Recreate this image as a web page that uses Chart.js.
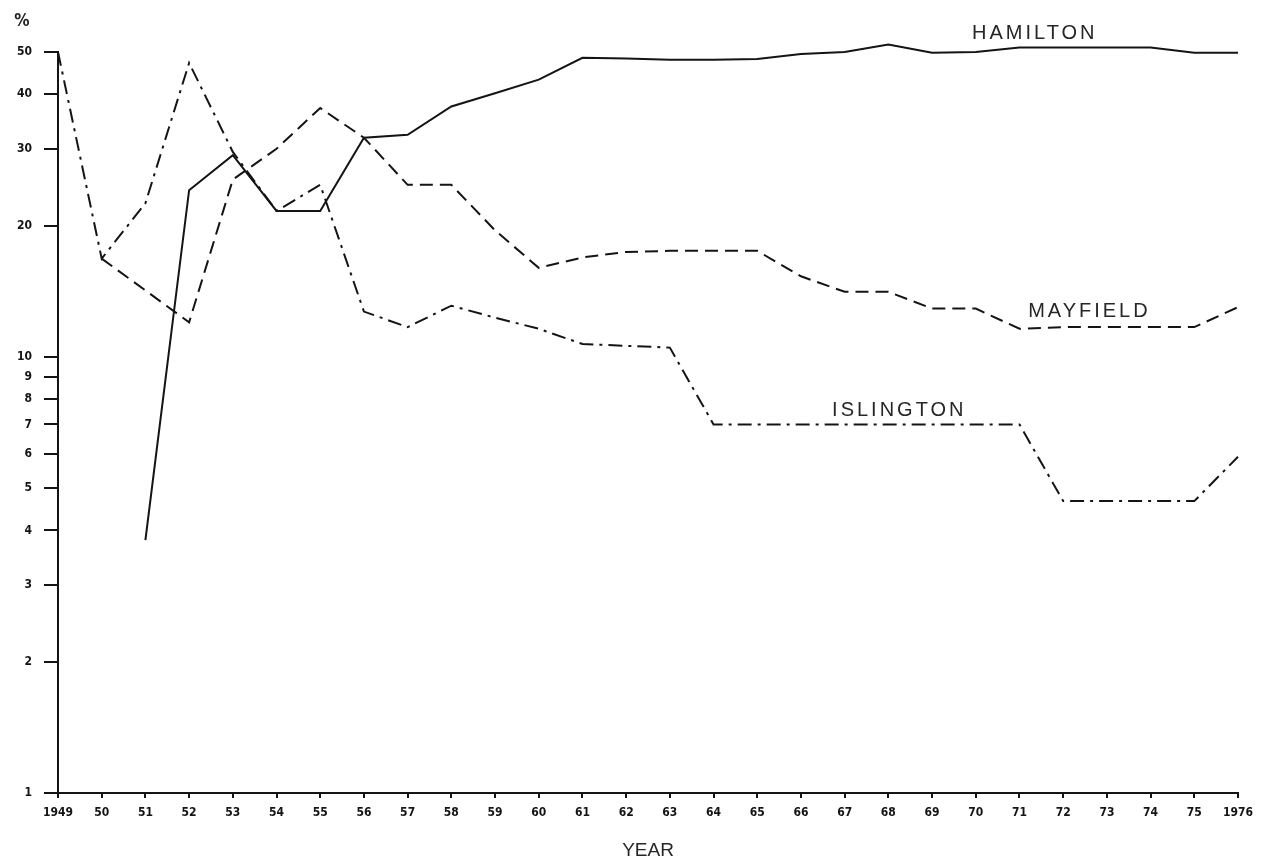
<!DOCTYPE html>
<html>
<head>
<meta charset="utf-8">
<script src="https://cdn.jsdelivr.net/npm/chart.js@4"></script>
<style>
  html, body { margin: 0; padding: 0; background: #ffffff; }
  #wrap { width: 1275px; height: 863px; }
</style>
</head>
<body>
<div id="wrap"><canvas id="grafico" width="1275" height="863"></canvas></div>
<script>
const years = ['1949','1950','1951','1952','1953','1954','1955','1956','1957','1958','1959','1960','1961','1962',
  '1963','1964','1965','1966','1967','1968','1969','1970','1971','1972','1973','1974','1975','1976'];
const tickLabels = ['1949','50','51','52','53','54','55','56','57','58','59','60','61','62',
  '63','64','65','66','67','68','69','70','71','72','73','74','75','1976'];
const yTicks = [1, 2, 3, 4, 5, 6, 7, 8, 9, 10, 20, 30, 40, 50];

const hamilton = [null, null, 3.8, 24.1, 29.0, 21.6, 21.6, 31.8, 32.3, 37.5, 40.2, 43.2, 48.5, 48.3,
  48.0, 48.0, 48.2, 49.5, 50.0, 52.0, 49.8, 50.0, 51.2, 51.2, 51.2, 51.2, 49.8, 49.8];
const mayfield = [null, 16.8, 14.2, 12.0, 25.5, 30.0, 37.2, 31.8, 24.8, 24.8, 19.5, 16.0, 16.9, 17.4,
  17.5, 17.5, 17.5, 15.3, 14.1, 14.1, 12.9, 12.9, 11.6, 11.7, 11.7, 11.7, 11.7, 13.0];
const islington = [50, 16.8, 22.5, 47.2, 29.5, 21.6, 24.8, 12.7, 11.7, 13.1, 12.3, 11.6, 10.7, 10.6,
  10.5, 7.0, 7.0, 7.0, 7.0, 7.0, 7.0, 7.0, 7.0, 4.67, 4.67, 4.67, 4.67, 5.9];

const lineLabels = ['HAMILTON', 'MAYFIELD', 'ISLINGTON'];

const ink = '#141414';

// rotulos de las curvas y el "%" del eje
const rotulos = {
  id: 'rotulos',
  afterDatasetsDraw(chart) {
    const { ctx, scales: { x, y }, chartArea } = chart;
    ctx.save();
    ctx.fillStyle = '#262626';
    ctx.textAlign = 'center';
    ctx.textBaseline = 'middle';
    ctx.font = '20px "Liberation Sans"';
    ctx.letterSpacing = '3px';
    ctx.fillText(lineLabels[0], x.getPixelForValue(22.35), y.getPixelForValue(51.2) - 14);
    ctx.fillText(lineLabels[1], x.getPixelForValue(23.6), y.getPixelForValue(11.7) - 16);
    ctx.fillText(lineLabels[2], x.getPixelForValue(19.25), y.getPixelForValue(7.0) - 14);
    ctx.letterSpacing = '0px';
    ctx.font = 'bold 17px "DejaVu Sans Condensed"';
    ctx.fillText('%', chartArea.left - 36, chartArea.top - 30);
    ctx.restore();
  }
};

const ctx = document.getElementById('grafico').getContext('2d');
new Chart(ctx, {
  type: 'line',
  data: {
    labels: years,
    datasets: [
      { label: 'Hamilton', data: hamilton, borderColor: ink, borderWidth: 2, pointRadius: 0, tension: 0, clip: false },
      { label: 'Mayfield', data: mayfield, borderColor: ink, borderWidth: 2, pointRadius: 0, tension: 0, clip: false,
        borderDash: [13, 7] },
      { label: 'Islington', data: islington, borderColor: ink, borderWidth: 2, pointRadius: 0, tension: 0, clip: false,
        borderDash: [14, 6, 3, 6] }
    ]
  },
  options: {
    responsive: false,
    animation: false,
    devicePixelRatio: 1,
    layout: { padding: { top: 52, right: 37, left: 0, bottom: 0 } },
    plugins: {
      legend: { display: false },
      tooltip: { enabled: false }
    },
    scales: {
      x: {
        type: 'category',
        offset: false,
        afterFit: (s) => { s.height = 70; },
        grid: { drawOnChartArea: false, drawTicks: true, tickLength: 5, color: ink, lineWidth: 2, offset: false },
        border: { display: true, color: ink, width: 2 },
        ticks: {
          autoSkip: false, maxRotation: 0, padding: 8, color: ink,
          font: { family: 'DejaVu Sans Condensed', size: 12, weight: 'bold' },
          callback: (v, i) => tickLabels[i]
        },
        title: {
          display: true, text: 'YEAR', color: '#262626',
          font: { family: 'Liberation Sans', size: 19 },
          padding: { top: 0, bottom: 1 }
        }
      },
      y: {
        type: 'logarithmic',
        min: 1,
        max: 50,
        afterFit: (s) => { s.width = 58; },
        afterBuildTicks: (s) => { s.ticks = yTicks.map(v => ({ value: v })); },
        grid: { drawOnChartArea: false, drawTicks: true, tickLength: 14, color: ink, lineWidth: 2 },
        border: { display: true, color: ink, width: 2 },
        ticks: {
          autoSkip: false, padding: 12, color: ink,
          font: { family: 'DejaVu Sans Condensed', size: 12, weight: 'bold' },
          callback: (v) => String(v)
        }
      }
    }
  },
  plugins: [rotulos]
});
</script>
</body>
</html>
